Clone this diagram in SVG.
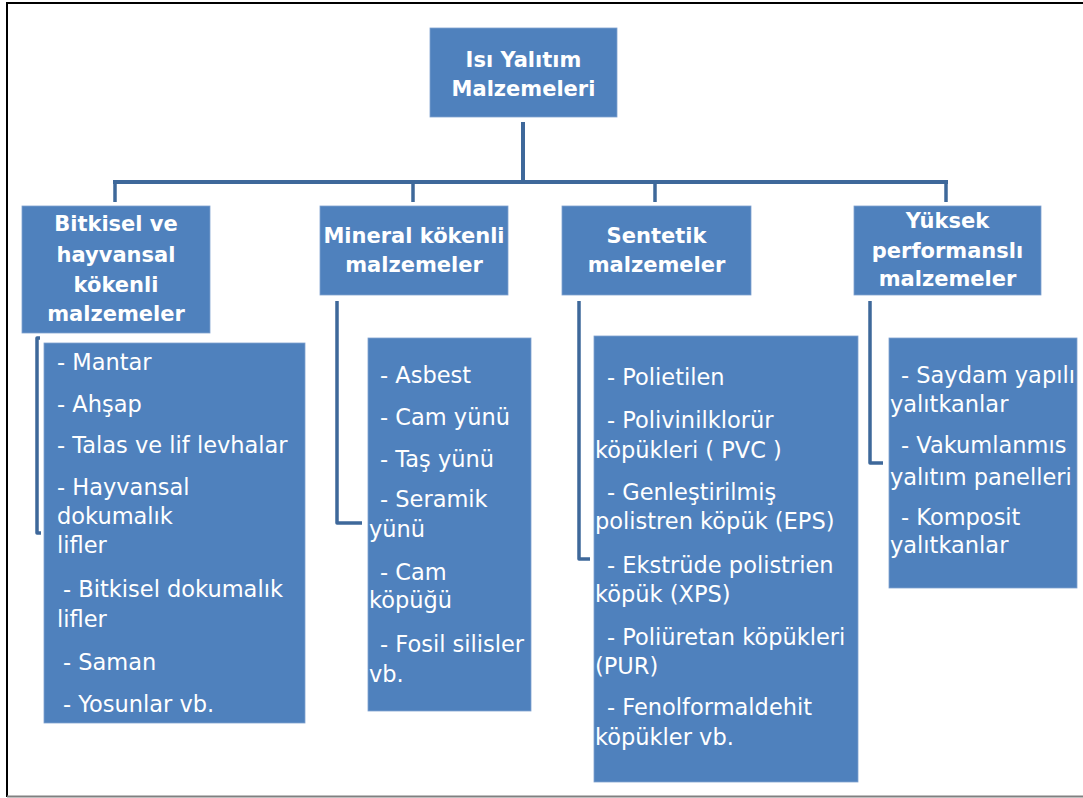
<svg xmlns="http://www.w3.org/2000/svg" width="1083" height="798" viewBox="0 0 1083 798">
<style>
.box{fill:#4F81BD;stroke:#7FA2D0;stroke-width:0.8}
.t{fill:#ffffff;font-family:"DejaVu Sans","Liberation Sans",sans-serif;font-weight:bold;font-size:21px;text-anchor:middle}
.i{fill:#ffffff;font-family:"DejaVu Sans","Liberation Sans",sans-serif;font-size:22.5px}
.c{fill:none;stroke:#3E689A;stroke-width:3.5;stroke-linejoin:round}
.cb{fill:none;stroke:#3E689A;stroke-width:4}
</style>
<rect x="0" y="0" width="1083" height="798" fill="#ffffff"/>
<g id="frame">
<path d="M7,797 V3 H1083" fill="none" stroke="#000000" stroke-width="2"/>
<line x1="7" y1="796.5" x2="1083" y2="796.5" stroke="#808080" stroke-width="2"/>
</g>
<g id="connectors">
<line class="cb" x1="523" y1="122" x2="523" y2="182"/>
<line class="cb" x1="113" y1="182" x2="948" y2="182"/>
<line class="c" x1="115" y1="182" x2="115" y2="202"/>
<line class="c" x1="413" y1="182" x2="413" y2="202"/>
<line class="c" x1="655" y1="182" x2="655" y2="202"/>
<line class="c" x1="946" y1="182" x2="946" y2="202"/>
<path class="c" d="M40,338 H37 V533 H41"/>
<path class="c" d="M337,301 V523 H362"/>
<path class="c" d="M579,301 V559 H590"/>
<path class="c" d="M870,301 V463 H883"/>
</g>
<g id="root">
<rect class="box" x="430" y="28" width="187" height="89"/>
<text class="t" x="523.5" y="67" font-size="22">Isı Yalıtım</text>
<text class="t" x="523.5" y="96" font-size="22">Malzemeleri</text>
</g>
<g id="bitkisel">
<rect class="box" x="22" y="206" width="188" height="127"/>
<text class="t" x="116" y="231">Bitkisel ve</text>
<text class="t" x="116" y="262">hayvansal</text>
<text class="t" x="116" y="292">kökenli</text>
<text class="t" x="116" y="321">malzemeler</text>
</g>
<g id="bitkisel-items">
<rect class="box" x="44" y="343" width="261" height="380"/>
<text class="i" x="57" y="370">- Mantar</text>
<text class="i" x="57" y="412">- Ahşap</text>
<text class="i" x="57" y="453">- Talas ve lif levhalar</text>
<text class="i" x="57" y="495">- Hayvansal</text>
<text class="i" x="57" y="524">dokumalık</text>
<text class="i" x="57" y="553">lifler</text>
<text class="i" x="63" y="597">- Bitkisel dokumalık</text>
<text class="i" x="57" y="627">lifler</text>
<text class="i" x="63" y="670">- Saman</text>
<text class="i" x="63" y="712">- Yosunlar vb.</text>
</g>
<g id="mineral">
<rect class="box" x="320" y="206" width="188" height="89"/>
<text class="t" x="414" y="243">Mineral kökenli</text>
<text class="t" x="414" y="272">malzemeler</text>
</g>
<g id="mineral-items">
<rect class="box" x="368" y="338" width="163" height="373"/>
<text class="i" x="380" y="383">- Asbest</text>
<text class="i" x="380" y="425">- Cam yünü</text>
<text class="i" x="380" y="467">- Taş yünü</text>
<text class="i" x="380" y="507">- Seramik</text>
<text class="i" x="369" y="537">yünü</text>
<text class="i" x="380" y="580">- Cam</text>
<text class="i" x="369" y="608">köpüğü</text>
<text class="i" x="380" y="652">- Fosil silisler</text>
<text class="i" x="369" y="682">vb.</text>
</g>
<g id="sentetik">
<rect class="box" x="562" y="206" width="189" height="89"/>
<text class="t" x="656.5" y="243">Sentetik</text>
<text class="t" x="656.5" y="272">malzemeler</text>
</g>
<g id="sentetik-items">
<rect class="box" x="594" y="336" width="264" height="446"/>
<text class="i" x="607" y="385">- Polietilen</text>
<text class="i" x="607" y="428">- Polivinilklorür</text>
<text class="i" x="595" y="458">köpükleri ( PVC )</text>
<text class="i" x="607" y="500">- Genleştirilmiş</text>
<text class="i" x="595" y="529">polistren köpük (EPS)</text>
<text class="i" x="607" y="573">- Ekstrüde polistrien</text>
<text class="i" x="595" y="602">köpük (XPS)</text>
<text class="i" x="607" y="645">- Poliüretan köpükleri</text>
<text class="i" x="595" y="674">(PUR)</text>
<text class="i" x="607" y="715">- Fenolformaldehit</text>
<text class="i" x="595" y="745">köpükler vb.</text>
</g>
<g id="yuksek">
<rect class="box" x="854" y="206" width="187" height="89"/>
<text class="t" x="947.5" y="228">Yüksek</text>
<text class="t" x="947.5" y="258">performanslı</text>
<text class="t" x="947.5" y="286">malzemeler</text>
</g>
<g id="yuksek-items">
<rect class="box" x="889" y="338" width="188" height="250"/>
<text class="i" x="901" y="383">- Saydam yapılı</text>
<text class="i" x="890" y="412">yalıtkanlar</text>
<text class="i" x="901" y="453">- Vakumlanmıs</text>
<text class="i" x="890" y="485">yalıtım panelleri</text>
<text class="i" x="901" y="525">- Komposit</text>
<text class="i" x="890" y="553">yalıtkanlar</text>
</g>
</svg>
